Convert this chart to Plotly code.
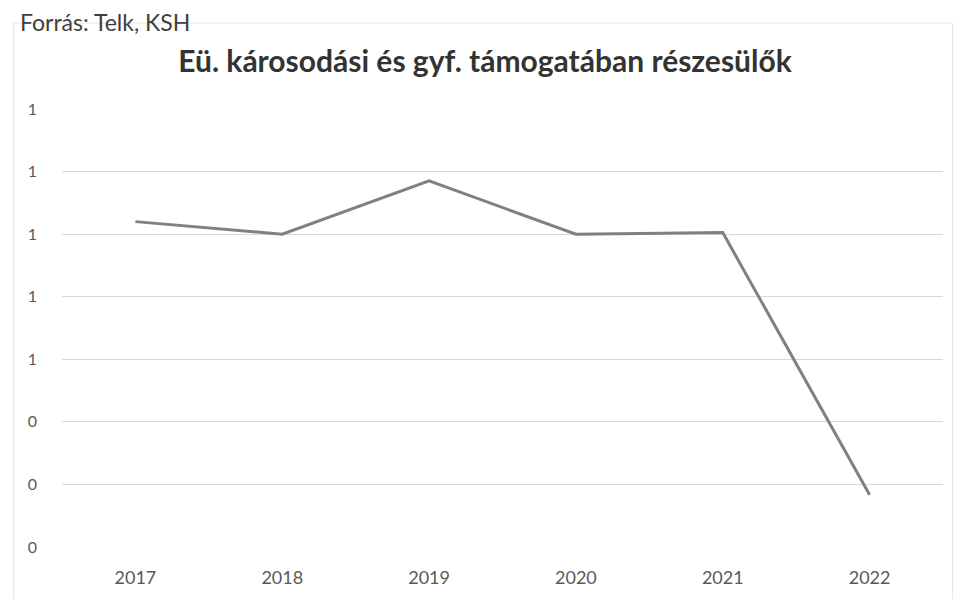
import plotly.graph_objects as go

years = ["2017", "2018", "2019", "2020", "2021", "2022"]
values = [1.04, 1.00, 1.17, 1.00, 1.005, 0.167]
y_ticks = [0, 0.2, 0.4, 0.6, 0.8, 1.0, 1.2, 1.4]

title_text = "<b>Eü. károsodási és gyf. támogatában részesülők</b>"
source_text = "Forrás: Telk, KSH"

# page offset of the figure (browser body margin)
OFF = 8
W, H = 962 - OFF, 599 - OFF
L, R, T, B = 61.5 - OFF, 943.5 - OFF, 109 - OFF, 547.5 - OFF
PW, PH = R - L, B - T


def px(xp):
    return (xp - OFF - L) / PW


def py(yp):
    return (B - (yp - OFF)) / PH


fig = go.Figure()
fig.add_trace(go.Scatter(
    x=years, y=values, mode="lines",
    line=dict(color="#808080", width=3),
    showlegend=False,
))

fig.update_layout(
    width=W, height=H,
    paper_bgcolor="white", plot_bgcolor="white",
    margin=dict(l=L, r=W - R, t=T, b=H - B, autoexpand=False),
    font=dict(family="Lato, 'Open Sans', sans-serif", color="#595959"),
    title=dict(text=title_text, x=(485 - OFF) / W, xref="container", xanchor="center",
               y=1 - (61 - OFF) / H, yanchor="middle", yref="container",
               font=dict(size=30, color="#333333", family="Lato, 'Open Sans', sans-serif")),
    xaxis=dict(
        type="category", range=[-0.5, 5.5], showgrid=False, zeroline=False, showline=False,
        ticks="", tickfont=dict(size=18, color="#595959"),
        ticklabelstandoff=18, automargin=False,
    ),
    yaxis=dict(
        range=[0, 1.4], tickvals=y_ticks, tickformat=".0f",
        showgrid=True, gridcolor="#d9d9d9", gridwidth=1,
        zeroline=False, showline=False, ticks="",
        tickfont=dict(size=16, color="#595959"),
        ticklabelstandoff=24, automargin=False,
    ),
    annotations=[dict(
        text=source_text, xref="paper", yref="paper",
        x=px(17), y=py(OFF - 2), xanchor="left", yanchor="top",
        showarrow=False, font=dict(size=23, color="#404040"),
    )],
    shapes=[dict(
        type="rect", xref="paper", yref="paper", layer="below",
        x0=px(13), x1=px(953), y0=py(620), y1=py(23),
        line=dict(color="#e6e6e6", width=1),
    )],
)

fig.write_html("out.html")
